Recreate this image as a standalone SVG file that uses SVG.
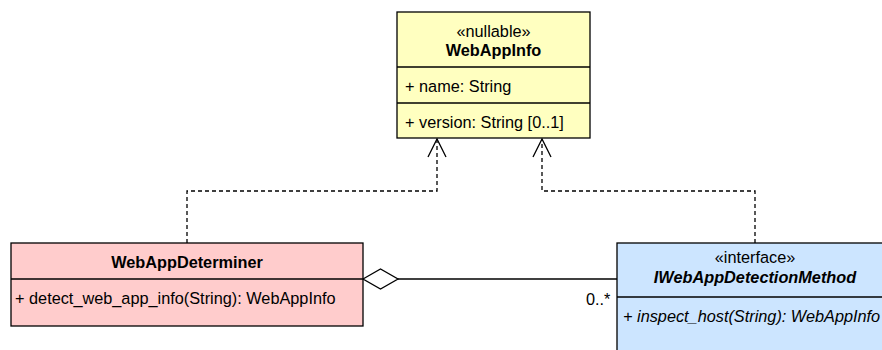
<svg xmlns="http://www.w3.org/2000/svg" width="882" height="350" viewBox="0 0 882 350">
<style>
text{font-family:"Liberation Sans",Arial,sans-serif;font-size:16.3px;fill:#000}
.c{text-anchor:middle}
.b{font-weight:bold}
.i{font-style:italic}
.box{stroke:#000;stroke-width:1.3}
.ln{stroke:#000;stroke-width:1.3;fill:none}
.dash{stroke-dasharray:4 3}
</style>
<rect width="882" height="350" fill="#fff"/>
<g id="connectors">
<path class="ln dash" d="M187,243 V191 H437 V139"/>
<path class="ln" d="M428,157 L437,139 L446,157"/>
<path class="ln dash" d="M755,243 V191 H542 V139"/>
<path class="ln" d="M533,157 L542,139 L551,157"/>
<path class="ln" d="M398,279 H617"/>
<path class="ln" d="M363,279 L380.5,269 L398,279 L380.5,289 Z" fill="#fff"/>
<text x="586" y="305">0..*</text>
</g>
<g id="WebAppInfo">
<rect class="box" x="397" y="12" width="193" height="126" fill="#ffffc0"/>
<line class="ln" x1="397" y1="67" x2="590" y2="67"/>
<line class="ln" x1="397" y1="103" x2="590" y2="103"/>
<text class="c" x="493.5" y="37">«nullable»</text>
<text class="c b" x="493.5" y="56">WebAppInfo</text>
<text x="405" y="92">+ name: String</text>
<text x="405" y="128">+ version: String [0..1]</text>
</g>
<g id="WebAppDeterminer">
<rect class="box" x="11" y="243" width="352" height="83" fill="#ffcccc"/>
<line class="ln" x1="11" y1="279" x2="363" y2="279"/>
<text class="c b" x="187" y="268">WebAppDeterminer</text>
<text x="15" y="304">+ detect_web_app_info(String): WebAppInfo</text>
</g>
<g id="IWebAppDetectionMethod">
<rect class="box" x="617" y="243" width="276" height="120" fill="#cce5ff"/>
<line class="ln" x1="617" y1="297" x2="893" y2="297"/>
<text class="c" x="755" y="263">«interface»</text>
<text class="c b i" x="755" y="283">IWebAppDetectionMethod</text>
<text class="i" x="623" y="322">+ inspect_host(String): WebAppInfo</text>
</g>
</svg>
